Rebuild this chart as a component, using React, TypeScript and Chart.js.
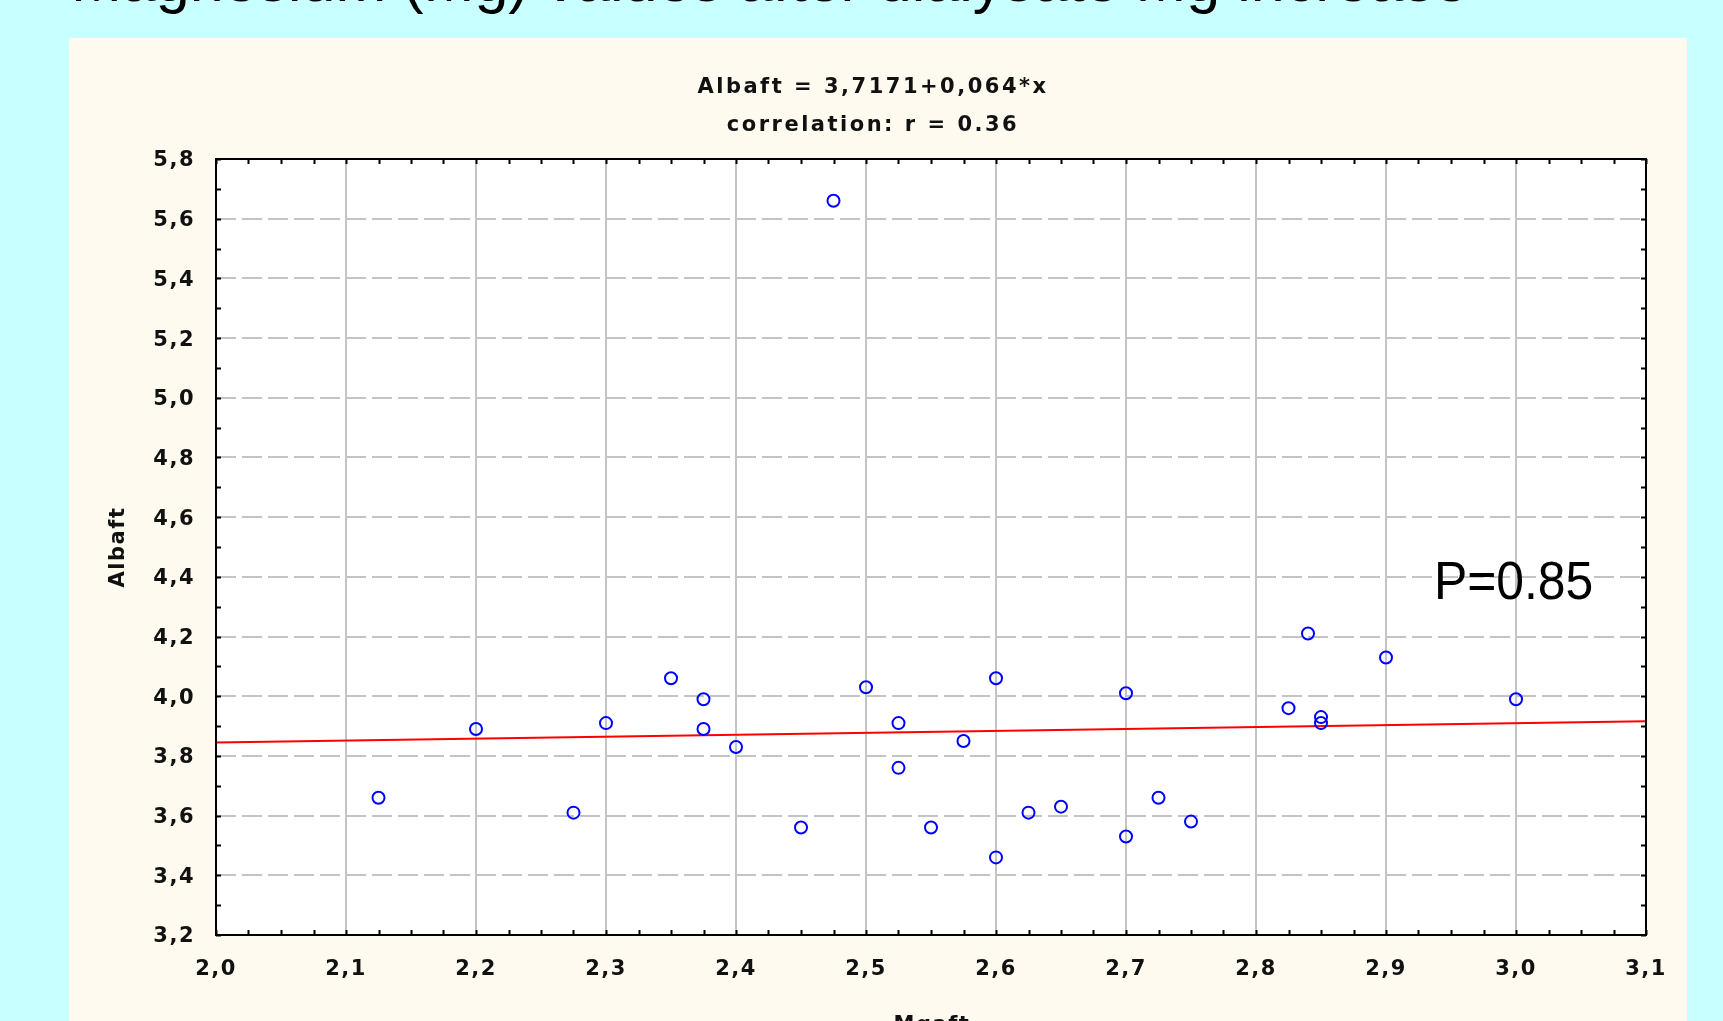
import { useEffect, useRef } from "react";
import { Chart, registerables } from "chart.js";

Chart.register(...registerables);

const W = 1723;
const H = 1021;

// ---- data ----
const mgaft = [
  2.125, 2.2, 2.275, 2.3, 2.35, 2.375, 2.375, 2.4, 2.45, 2.475, 2.5, 2.525, 2.525, 2.55, 2.575,
  2.6, 2.6, 2.625, 2.65, 2.7, 2.7, 2.725, 2.75, 2.825, 2.84, 2.85, 2.85, 2.9, 3.0,
];
const albaft = [
  3.66, 3.89, 3.61, 3.91, 4.06, 3.99, 3.89, 3.83, 3.56, 5.66, 4.03, 3.91, 3.76, 3.56, 3.85,
  4.06, 3.46, 3.61, 3.63, 4.01, 3.53, 3.66, 3.58, 3.96, 4.21, 3.93, 3.91, 4.13, 3.99,
];
// regression line Albaft = 3,7171 + 0,064*x, end points as read
const fitX = [2.0, 3.1];
const fitY = [3.845, 3.916];

const xTickValues = [2.0, 2.1, 2.2, 2.3, 2.4, 2.5, 2.6, 2.7, 2.8, 2.9, 3.0, 3.1];
const xTickLabels = ["2,0", "2,1", "2,2", "2,3", "2,4", "2,5", "2,6", "2,7", "2,8", "2,9", "3,0", "3,1"];
const yTickValues = [3.2, 3.4, 3.6, 3.8, 4.0, 4.2, 4.4, 4.6, 4.8, 5.0, 5.2, 5.4, 5.6, 5.8];
const yTickLabels = ["3,2", "3,4", "3,6", "3,8", "4,0", "4,2", "4,4", "4,6", "4,8", "5,0", "5,2", "5,4", "5,6", "5,8"];

const pageTitle = "Magnesium (Mg) values after dialysate Mg increase";
const eqLine = "Albaft = 3,7171+0,064*x";
const corrLine = "correlation: r = 0.36";
const pLabel = "P=0.85";
const xTitle = "Mgaft";
const yTitle = "Albaft";

const FAMILY = '"DejaVu Sans", Verdana, sans-serif';
const TEXT_FONT = `bold 21px ${FAMILY}`;

const decor = {
  id: "decor",
  beforeDraw(chart: any) {
    const { ctx, chartArea: a } = chart;
    ctx.save();
    ctx.fillStyle = "#C8FFFF";
    ctx.fillRect(0, 0, W, H);
    ctx.fillStyle = "#FFFAF0";
    ctx.fillRect(69, 38, 1618, H - 38);
    ctx.fillStyle = "#FFFFFF";
    ctx.fillRect(a.left, a.top, a.right - a.left, a.bottom - a.top);
    ctx.fillStyle = "#000";
    ctx.font = '61px "Liberation Sans", Arial, sans-serif';
    ctx.textAlign = "left";
    ctx.textBaseline = "alphabetic";
    ctx.fillText(pageTitle, 71, 1);
    ctx.restore();
    (ctx as any).letterSpacing = "1.5px";
  },
  afterDraw(chart: any) {
    const { ctx, chartArea: a, scales } = chart;
    const x = scales.x;
    const y = scales.y;
    ctx.save();
    (ctx as any).letterSpacing = "0px";
    ctx.strokeStyle = "#000";
    ctx.lineWidth = 2;
    ctx.setLineDash([]);
    ctx.beginPath();
    for (let i = 0; i <= 44; i++) {
      const v = 2.0 + i * 0.025;
      const px = Math.round(x.getPixelForValue(v)) + 0.5;
      ctx.moveTo(px, a.bottom);
      ctx.lineTo(px, a.bottom - 5);
      ctx.moveTo(px, a.top);
      ctx.lineTo(px, a.top + 5);
    }
    for (let i = 0; i <= 26; i++) {
      const v = 3.2 + i * 0.1;
      const py = Math.round(y.getPixelForValue(v)) + 0.5;
      ctx.moveTo(a.left, py);
      ctx.lineTo(a.left + 5, py);
      ctx.moveTo(a.right, py);
      ctx.lineTo(a.right - 5, py);
    }
    ctx.stroke();
    ctx.strokeRect(a.left, a.top, a.right - a.left, a.bottom - a.top);

    ctx.fillStyle = "#111";
    ctx.font = TEXT_FONT;
    (ctx as any).letterSpacing = "2.5px";
    ctx.textAlign = "center";
    ctx.textBaseline = "alphabetic";
    ctx.fillText(eqLine, 873, 93);
    ctx.fillText(corrLine, 873, 131);

    (ctx as any).letterSpacing = "1.5px";
    ctx.fillText(xTitle, (a.left + a.right) / 2 + 1, 1031);
    ctx.save();
    ctx.translate(124, 547);
    ctx.rotate(-Math.PI / 2);
    ctx.fillText(yTitle, 0, 0);
    ctx.restore();

    (ctx as any).letterSpacing = "0px";
    ctx.fillStyle = "#000";
    ctx.save();
    ctx.translate(1434, 599);
    ctx.scale(0.94, 1);
    ctx.font = '53px "Liberation Sans", Arial, sans-serif';
    ctx.textAlign = "left";
    ctx.fillText(pLabel, 0, 0);
    ctx.restore();
    ctx.restore();
  },
};

export default function App() {
  const ref = useRef<HTMLCanvasElement | null>(null);
  useEffect(() => {
    if (!ref.current) return;
    const chart = new Chart(ref.current, {
      type: "scatter",
      data: {
        datasets: [
          {
            type: "line",
            label: "fit",
            data: fitX.map((v, i) => ({ x: v, y: fitY[i] })),
            borderColor: "#FF0000",
            borderWidth: 2,
            pointRadius: 0,
            fill: false,
            order: 2,
          } as any,
          {
            label: "Albaft",
            data: mgaft.map((v, i) => ({ x: v, y: albaft[i] })),
            pointStyle: "circle",
            pointRadius: 6,
            borderColor: "#0000FF",
            backgroundColor: "rgba(0,0,0,0)",
            borderWidth: 2,
            order: 1,
          },
        ],
      },
      options: {
        responsive: false,
        maintainAspectRatio: false,
        animation: false,
        devicePixelRatio: 1,
        layout: { padding: { left: 0, right: 77, top: 159, bottom: 0 } },
        plugins: {
          legend: { display: false },
          title: { display: false },
          tooltip: { enabled: false },
        },
        scales: {
          x: {
            type: "linear",
            min: 2.0,
            max: 3.1,
            afterBuildTicks: (s: any) => {
              s.ticks = xTickValues.map((v) => ({ value: v }));
            },
            afterFit: (s: any) => {
              s.height = 86;
            },
            grid: { color: "#C4C4C4", lineWidth: 2, drawTicks: false },
            border: { display: false },
            ticks: {
              padding: 22,
              color: "#111",
              font: { family: FAMILY, weight: "bold", size: 21 },
              maxRotation: 0,
              autoSkip: false,
              callback: (_v: any, i: number) => xTickLabels[i],
            },
          },
          y: {
            type: "linear",
            min: 3.2,
            max: 5.8,
            afterBuildTicks: (s: any) => {
              s.ticks = yTickValues.map((v) => ({ value: v }));
            },
            afterFit: (s: any) => {
              s.width = 216;
            },
            grid: { color: "#C4C4C4", lineWidth: 2, drawTicks: false },
            border: { display: false, dash: [20, 6] },
            ticks: {
              padding: 21,
              labelOffset: 2,
              color: "#111",
              font: { family: FAMILY, weight: "bold", size: 21 },
              autoSkip: false,
              callback: (_v: any, i: number) => yTickLabels[i],
            },
          },
        },
      },
      plugins: [decor],
    });
    return () => chart.destroy();
  }, []);
  return (
    <canvas
      ref={ref}
      width={W}
      height={H}
      style={{ position: "fixed", left: 0, top: 0, width: W, height: H, display: "block" }}
    />
  );
}
